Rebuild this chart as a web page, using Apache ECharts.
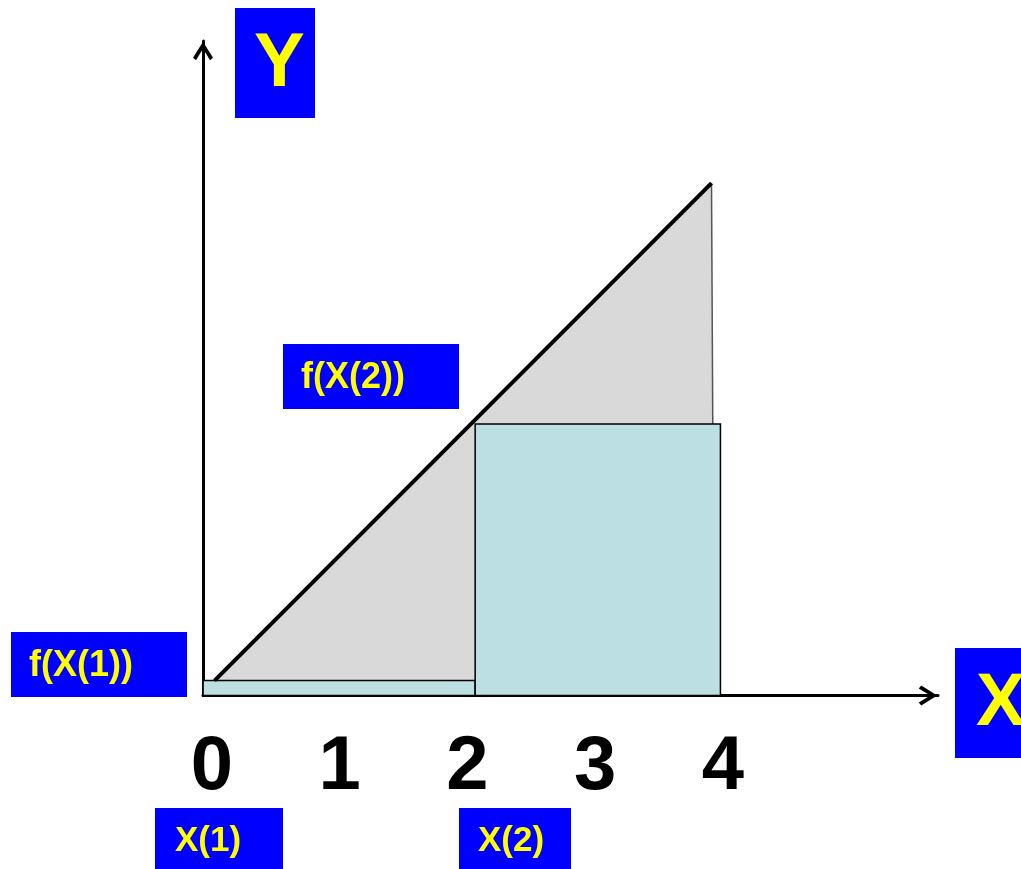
<!DOCTYPE html>
<html>
<head>
<meta charset="utf-8">
<title>f(X) rectangles</title>
<script src="https://cdn.jsdelivr.net/npm/echarts/dist/echarts.min.js"></script>
<style>
    html, body { margin: 0; padding: 0; background: #fff; }
    #chart { width: 1021px; height: 869px; }
</style>
</head>
<body>
<div id="chart"></div>
<script>
// tick labels on the X axis
var tickValues = [0, 1, 2, 3, 4];
// the straight line f(x)
var lineX = [0.02, 3.91];
var lineY = [0.117, 4.01];
// thin edge closing the shaded area on the right
var edgeX = [3.91, 3.92];
var edgeY = [4.01, 2.125];
// rectangles: left, right, height f(X(i))
var rectLeft = [-0.07, 2.06];
var rectRight = [2.06, 3.98];
var rectHeight = [0.117, 2.125];
// text of the blue boxes
var boxTexts = ['Y', 'f(X(2))', 'f(X(1))', 'X', 'X(1)', 'X(2)'];

var font = '"Liberation Sans", Arial, sans-serif';
var arrow = 'path://M10,0 L20,16 L17,18.5 L10,7 L3,18.5 L0,16 Z';

var chart = echarts.init(document.getElementById('chart'));

var blueBox = function (text, x, y, w, h, tx, size, dy) {
    return {
        type: 'group',
        children: [{
            type: 'rect',
            shape: {x: x, y: y, width: w, height: h},
            style: {fill: '#0000FF'}
        }, {
            type: 'text',
            x: tx,
            y: y + h / 2 + dy,
            style: {
                text: text,
                fill: '#FFFF00',
                font: 'bold ' + size + 'px ' + font,
                verticalAlign: 'middle',
                align: 'left'
            }
        }]
    };
};

var rectData = rectLeft.map(function (v, i) {
    return [v, rectRight[i], rectHeight[i]];
});

var option = {
    animation: false,
    grid: {left: 203, right: 83, top: 41, bottom: 173.5},
    xAxis: {
        type: 'value',
        min: -0.0705,
        max: 5.683,
        axisLine: {
            onZero: false,
            symbol: ['none', arrow],
            symbolSize: [20, 20],
            symbolOffset: [0, -10],
            lineStyle: {color: '#000', width: 3}
        },
        axisTick: {show: false},
        splitLine: {show: false},
        axisLabel: {
            customValues: tickValues,
            showMinLabel: true,
            showMaxLabel: true,
            margin: 35,
            color: '#000',
            fontSize: 76,
            fontWeight: 'bold',
            fontFamily: font
        }
    },
    yAxis: {
        type: 'value',
        min: 0,
        max: 5.123,
        axisLine: {
            show: true,
            onZero: false,
            symbol: ['none', arrow],
            symbolSize: [20, 20],
            symbolOffset: [0, -10],
            lineStyle: {color: '#000', width: 3}
        },
        axisTick: {show: false},
        splitLine: {show: false},
        axisLabel: {show: false}
    },
    series: [{
        // shaded area under the line
        type: 'custom',
        z: 1,
        clip: false,
        data: [0],
        renderItem: function (params, api) {
            var pts = [
                api.coord([lineX[0], lineY[0]]),
                api.coord([lineX[1], lineY[1]]),
                api.coord([edgeX[1], lineY[0]])
            ];
            return {type: 'polygon', shape: {points: pts}, style: {fill: '#D9D9D9'}};
        }
    }, {
        type: 'line',
        z: 2,
        symbol: 'none',
        data: edgeX.map(function (v, i) { return [v, edgeY[i]]; }),
        lineStyle: {color: '#555', width: 1.5}
    }, {
        type: 'custom',
        z: 3,
        clip: false,
        data: rectData,
        encode: {x: [0, 1], y: 2},
        renderItem: function (params, api) {
            var p0 = api.coord([api.value(0), api.value(2)]);
            var p1 = api.coord([api.value(1), 0]);
            return {
                type: 'rect',
                shape: {x: p0[0], y: p0[1], width: p1[0] - p0[0], height: p1[1] - p0[1]},
                style: {fill: '#BBDFE2', stroke: '#000', lineWidth: 1.5}
            };
        }
    }, {
        type: 'line',
        z: 4,
        symbol: 'none',
        data: lineX.map(function (v, i) { return [v, lineY[i]]; }),
        lineStyle: {color: '#000', width: 4}
    }],
    graphic: [
        blueBox(boxTexts[0], 235, 8, 80, 110, 254, 76, 2),
        blueBox(boxTexts[1], 283, 344, 176, 65, 301, 36, 2),
        blueBox(boxTexts[2], 11, 632, 176, 65, 29, 36, 2),
        blueBox(boxTexts[3], 955, 648, 80, 110, 976, 74, 2),
        blueBox(boxTexts[4], 155, 808, 128, 61, 175, 35, 3),
        blueBox(boxTexts[5], 459, 808, 112, 61, 478, 35, 3)
    ]
};

chart.setOption(option);
</script>
</body>
</html>
